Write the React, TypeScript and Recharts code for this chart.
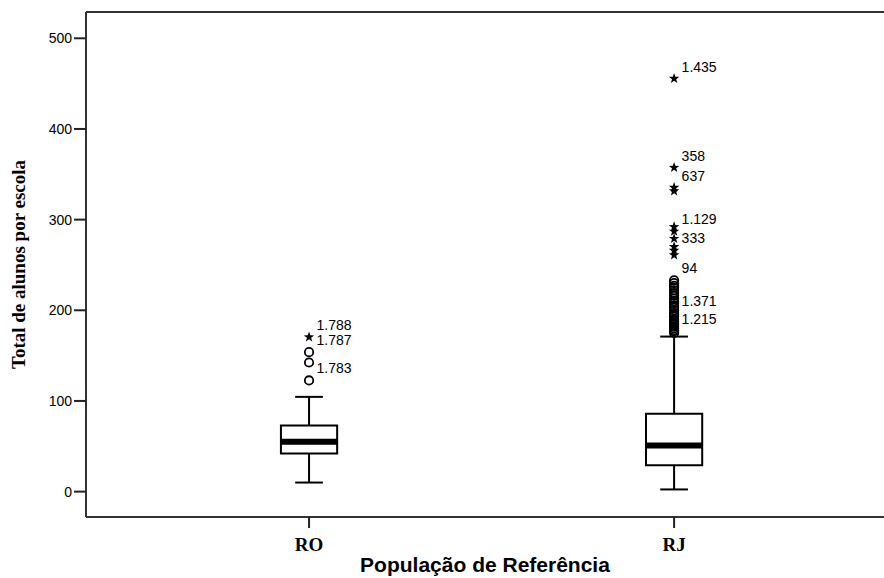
import React from 'react';
import {
  ComposedChart,
  XAxis,
  YAxis,
  Scatter,
  ReferenceArea,
  ReferenceLine,
} from 'recharts';

// ---- data ----
const categories = ['RO', 'RJ'];
const positions = [1, 2];
const mins = [10, 2.4];
const q1s = [42, 29];
const medians = [55, 51];
const q3s = [73, 86];
const maxes = [104.5, 171];

const roCircles = [122.6, 142.4, 153.8];
const roStars = [170.4];
const rjCircles = [233, 230, 227, 225, 222, 219, 216, 213, 210, 208, 205, 203, 200, 197, 195, 193, 190, 188, 186, 184, 182, 180, 178, 177, 175];
const rjStars = [455.6, 357.4, 335.4, 331.6, 292, 287, 279, 270, 266, 261];

const roLabels: Record<string, string> = { '170.4': '1.788', '153.8': '1.787', '122.6': '1.783' };
const rjLabels: Record<string, string> = {
  '455.6': '1.435',
  '357.4': '358',
  '335.4': '637',
  '287': '1.129',
  '266': '333',
  '233': '94',
  '197': '1.371',
  '177': '1.215',
};

const yTicks = [0, 100, 200, 300, 400, 500];
const yDomain = [-28, 529];
const xDomain = [0.389, 2.575];

const BOX_HALF = 0.077;
const CAP_HALF = 0.038;

type Pt = { x: number; y: number; kind: string; label?: string };

const buildPoints = (pos: number, circles: number[], stars: number[], labels: Record<string, string>): Pt[] => [
  ...circles.map((v) => ({ x: pos, y: v, kind: 'circle', label: labels[String(v)] })),
  ...stars.map((v) => ({ x: pos, y: v, kind: 'star', label: labels[String(v)] })),
];

const outliers: Pt[] = [
  ...buildPoints(positions[0], roCircles, roStars, roLabels),
  ...buildPoints(positions[1], rjCircles, rjStars, rjLabels),
];

const starPath = (cx: number, cy: number, ro: number, ri: number) => {
  const pts: string[] = [];
  for (let i = 0; i < 10; i++) {
    const r = i % 2 === 0 ? ro : ri;
    const a = -Math.PI / 2 + (i * Math.PI) / 5;
    pts.push(`${(cx + r * Math.cos(a)).toFixed(2)},${(cy + r * Math.sin(a)).toFixed(2)}`);
  }
  return `M${pts.join('L')}Z`;
};

const OutlierShape = (props: any) => {
  const { cx, cy, payload } = props;
  if (cx == null || cy == null) return null;
  return (
    <g>
      {payload.kind === 'circle' ? (
        <circle cx={cx} cy={cy} r={4.2} fill="none" stroke="#000" strokeWidth={1.8} />
      ) : (
        <path d={starPath(cx, cy, 5.5, 2.2)} fill="#000" />
      )}
      {payload.label ? (
        <text
          x={cx + 7.5}
          y={cy - 12}
          dominantBaseline="central"
          fontFamily="'Liberation Sans', Arial, sans-serif"
          fontSize={14}
          fill="#000"
        >
          {payload.label}
        </text>
      ) : null}
    </g>
  );
};

const tickFont = "'Liberation Sans', Arial, sans-serif";

const XTick = (props: any) => {
  const { x, y, payload } = props;
  const idx = positions.indexOf(payload.value);
  return (
    <text
      x={x}
      y={y + 14}
      textAnchor="middle"
      dominantBaseline="central"
      fontFamily="'Liberation Serif', 'Times New Roman', serif"
      fontWeight="bold"
      fontSize={19}
      fill="#000"
    >
      {idx >= 0 ? categories[idx] : ''}
    </text>
  );
};

export default function App() {
  return (
    <div style={{ position: 'absolute', left: 0, top: 0, width: 884, height: 578, background: '#fff' }}>
      <ComposedChart width={884} height={578} margin={{ top: 12, right: 0, bottom: 0, left: 0 }}>
        <XAxis
          type="number"
          dataKey="x"
          domain={xDomain}
          ticks={positions}
          allowDataOverflow
          height={61}
          tickSize={11}
          tickLine={{ stroke: '#222', strokeWidth: 2 }}
          axisLine={{ stroke: '#333', strokeWidth: 2 }}
          tick={<XTick />}
          label={{
            value: 'População de Referência',
            position: 'insideBottom',
            offset: 6,
            style: { fontFamily: tickFont, fontWeight: 'bold', fontSize: 21, fill: '#000' },
          }}
        />
        <YAxis
          type="number"
          dataKey="y"
          domain={yDomain}
          ticks={yTicks}
          allowDataOverflow
          width={86}
          tickSize={12}
          tickMargin={2}
          tickLine={{ stroke: '#222', strokeWidth: 2 }}
          axisLine={{ stroke: '#333', strokeWidth: 2 }}
          tick={{ fontFamily: tickFont, fontSize: 14, fill: '#000' }}
          label={{
            value: 'Total de alunos por escola',
            angle: -90,
            position: 'insideLeft',
            offset: 18,
            style: {
              textAnchor: 'middle',
              fontFamily: "'Liberation Serif', 'Times New Roman', serif",
              fontWeight: 'bold',
              fontSize: 19,
              fill: '#000',
            },
          }}
        />
        <ReferenceLine y={yDomain[1]} stroke="#333" strokeWidth={2} ifOverflow="visible" />
        {positions.map((p, i) => (
          <ReferenceLine
            key={`lw${i}`}
            segment={[{ x: p, y: mins[i] }, { x: p, y: q1s[i] }]}
            stroke="#000"
            strokeWidth={2}
          />
        ))}
        {positions.map((p, i) => (
          <ReferenceLine
            key={`uw${i}`}
            segment={[{ x: p, y: q3s[i] }, { x: p, y: maxes[i] }]}
            stroke="#000"
            strokeWidth={2}
          />
        ))}
        {positions.map((p, i) => (
          <ReferenceLine
            key={`lc${i}`}
            segment={[{ x: p - CAP_HALF, y: mins[i] }, { x: p + CAP_HALF, y: mins[i] }]}
            stroke="#000"
            strokeWidth={2}
          />
        ))}
        {positions.map((p, i) => (
          <ReferenceLine
            key={`uc${i}`}
            segment={[{ x: p - CAP_HALF, y: maxes[i] }, { x: p + CAP_HALF, y: maxes[i] }]}
            stroke="#000"
            strokeWidth={2}
          />
        ))}
        {positions.map((p, i) => (
          <ReferenceArea
            key={`box${i}`}
            x1={p - BOX_HALF}
            x2={p + BOX_HALF}
            y1={q1s[i]}
            y2={q3s[i]}
            fill="#fff"
            fillOpacity={1}
            stroke="#000"
            strokeWidth={2}
          />
        ))}
        {positions.map((p, i) => (
          <ReferenceLine
            key={`med${i}`}
            segment={[{ x: p - BOX_HALF, y: medians[i] }, { x: p + BOX_HALF, y: medians[i] }]}
            stroke="#000"
            strokeWidth={6}
          />
        ))}
        <Scatter data={outliers} dataKey="y" shape={<OutlierShape />} isAnimationActive={false} />
      </ComposedChart>
    </div>
  );
}
